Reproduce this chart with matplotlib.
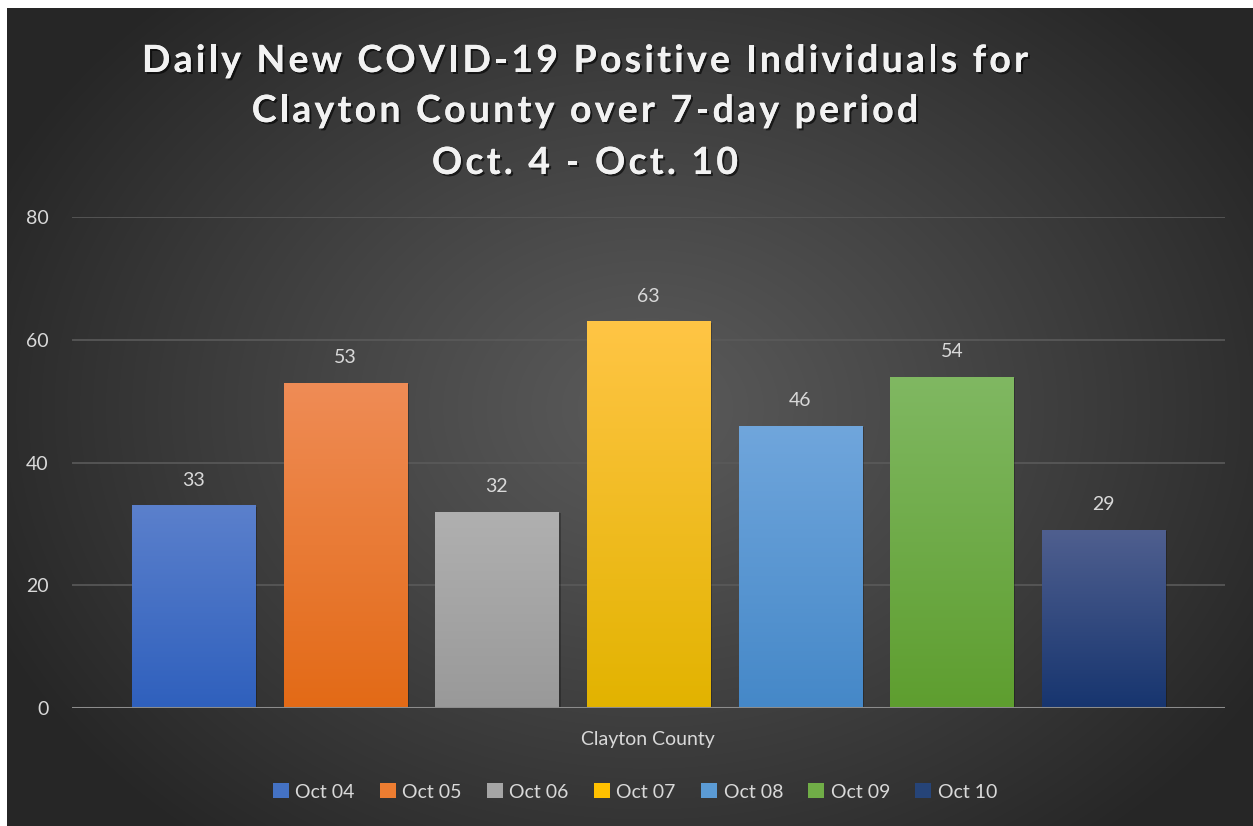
import numpy as np
import matplotlib
matplotlib.use("Agg")
import matplotlib.pyplot as plt
import matplotlib.patheffects as pe
from matplotlib.colors import LinearSegmentedColormap
from matplotlib.patches import Patch
from matplotlib.font_manager import FontProperties
from matplotlib.textpath import TextToPath

# data
days = ["Oct 04", "Oct 05", "Oct 06", "Oct 07", "Oct 08", "Oct 09", "Oct 10"]
cases = [33, 53, 32, 63, 46, 54, 29]
category = "Clayton County"
yticks = [0, 20, 40, 60, 80]
title_lines = ["Daily New COVID-19 Positive Individuals for",
               "Clayton County over 7-day period",
               "Oct. 4 - Oct. 10"]

# colours: legend colour, gradient top, gradient bottom
base_cols = ["#4472c4", "#ed7d31", "#a5a5a5", "#ffc000", "#5b9bd5", "#70ad47", "#264478"]
top_cols = ["#5b80cc", "#ef8c56", "#b0b0b0", "#ffc545", "#70a6dc", "#80b862", "#4f5f8f"]
bot_cols = ["#2f60bd", "#e36a16", "#999999", "#e2b300", "#4588c8", "#5e9e2f", "#17356f"]

W, H = 1253, 826
fig = plt.figure(figsize=(W / 100, H / 100), dpi=100, facecolor="white")

# dark radial background
bg = fig.add_axes([7 / W, 0, (W - 7) / W, (H - 8) / H])
bg.set_axis_off()
yy, xx = np.mgrid[0:818, 0:1246]
r = np.sqrt(((xx - 640) / 720.0) ** 2 + ((yy - 400) / 560.0) ** 2)
r = np.clip(r, 0, 1)
shade = 0x5a - (0x5a - 0x26) * r ** 1.1
img = np.dstack([shade, shade, shade]) / 255.0
bg.imshow(img, aspect="auto", interpolation="bilinear")

# plot area
ax = fig.add_axes([72 / W, (H - 708) / H, (1225 - 72) / W, (708 - 217) / H])
ax.patch.set_alpha(0)
x = np.arange(len(days))
bw = 0.812
ax.set_xlim(-0.802, len(days) - 1 + 0.802)
ax.set_ylim(0, 80)

for yv in yticks[1:]:
    ax.axhline(yv, color="#5a5a5a", lw=1.2, zorder=0)

bars = ax.bar(x, cases, width=bw, color=base_cols, zorder=2)
for b, t, bt in zip(bars, top_cols, bot_cols):
    b.set_path_effects([pe.withSimplePatchShadow(offset=(1.5, -1), shadow_rgbFace="black", alpha=0.25), pe.Normal()])
    cmap = LinearSegmentedColormap.from_list("g", [bt, t])
    grad = np.linspace(0, 1, 256).reshape(-1, 1)
    x0 = b.get_x()
    im = ax.imshow(grad, cmap=cmap, origin="lower", aspect="auto",
                   extent=(x0, x0 + b.get_width(), 0, b.get_height()), zorder=3)
    im.set_clip_path(b)

for xi, v in zip(x, cases):
    ax.annotate(str(v), (xi, v), xytext=(0, 12), textcoords="offset points",
                ha="center", va="bottom", color="#d9d9d9", fontsize=14, family="Lato")

ax.axhline(0, color="#8c8c8c", lw=2.2, zorder=4)

for s in ax.spines.values():
    s.set_visible(False)
ax.set_yticks(yticks)
ax.set_yticklabels([str(t) for t in yticks], family="Lato", fontsize=14, color="#d9d9d9")
ax.tick_params(axis="y", length=0, pad=17)
ax.set_xticks([])

fig.text(648 / W, (H - 740) / H, category, ha="center", va="center",
         color="#d9d9d9", fontsize=14, family="Lato")

# title with extra letter spacing, drawn one character at a time
tprop = FontProperties(family="Lato", weight="bold", size=27)
ttp = TextToPath()
track = 3.2  # extra px between letters
shadow = [pe.withSimplePatchShadow(offset=(1.5, -1.5), shadow_rgbFace="black", alpha=0.6), pe.Normal()]


def text_w(s):
    if not s:
        return 0.0
    w, h, d = ttp.get_text_width_height_descent(s, tprop, ismath=False)
    return w * 100 / 72.0


for line, yp in zip(title_lines, [58, 108, 160]):
    total = text_w(line) + track * (len(line) - 1)
    start = 585 - total / 2
    for i, ch in enumerate(line):
        if ch == " ":
            continue
        xp = start + text_w(line[:i]) + track * i
        fig.text(xp / W, (H - yp) / H, ch, ha="left", va="center_baseline", color="#f2f2f2",
                 fontproperties=tprop, path_effects=shadow)

handles = [Patch(facecolor=c, edgecolor="none") for c in base_cols]
leg = fig.legend(handles, days, loc="center", bbox_to_anchor=(635 / W, (H - 792) / H), ncol=7,
                 frameon=False, handlelength=0.8, handleheight=0.8, handletextpad=0.35,
                 columnspacing=1.3, prop={"family": "Lato", "size": 14})
for t in leg.get_texts():
    t.set_color("#d9d9d9")

fig.savefig("out.png", dpi=100, facecolor="white")
